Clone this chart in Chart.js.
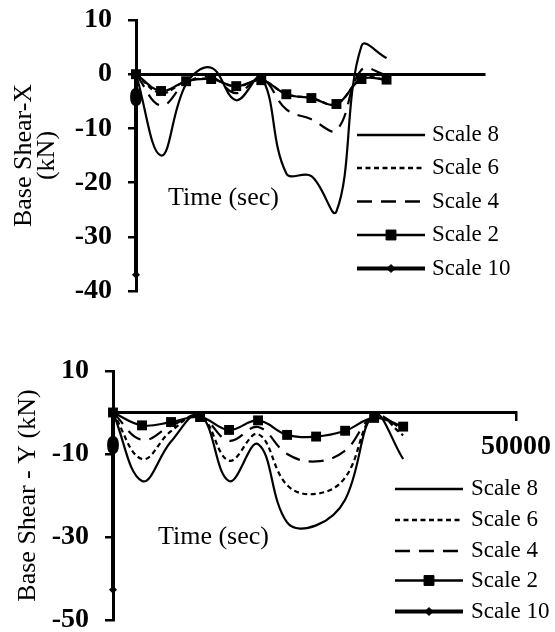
<!DOCTYPE html>
<html>
<head>
<meta charset="utf-8">
<script src="https://cdn.jsdelivr.net/npm/chart.js@4/dist/chart.umd.min.js"></script>
<style>
html,body{margin:0;padding:0;background:#fff;}
#wrap{position:relative;width:555px;height:632px;overflow:hidden;background:#fff;}
.box{position:absolute;left:0;width:555px;height:316px;}
canvas{display:block;}
</style>
</head>
<body>
<div id="wrap">
  <div class="box" style="top:0px"><canvas id="chartX" width="555" height="316"></canvas></div>
  <div class="box" style="top:316px"><canvas id="chartY" width="555" height="316"></canvas></div>
</div>
<script>
// ---------- DATA ----------
const seriesNames = ['Scale 8', 'Scale 6', 'Scale 4', 'Scale 2', 'Scale 10'];
const timeSec = [0, 3600, 7200, 10800, 14400, 18000, 21600, 25200, 28800, 32400, 36000];

// Base Shear-X (kN)
const shearXScale8 = [0, -15.0, -1.8, 1.2, -4.8, -0.6, -18.3, -18.8, -25.3, 5.2, 3.0];
const shearXScale6 = [0, -3.5, -1.3, -0.9, -2.3, -1.1, -3.7, -4.4, -5.5, -0.8, -1.0];
const shearXScale4 = [0, -5.8, -1.6, -0.5, -3.5, -0.8, -6.5, -8.3, -10.3, 0.8, -0.2];
const shearXScale2 = [0, -3.1, -1.3, -0.9, -2.2, -1.1, -3.7, -4.4, -5.5, -0.9, -1.0];
const shearXScale10Time = [0, 0];
const shearXScale10 = [0, -37.0];

// Base Shear - Y (kN)
const shearYScale8 = [0, -16.5, -7.0, -0.5, -16.5, -7.6, -26.5, -27.2, -21.0, -0.5, -11.2];
const shearYScale6 = [0, -11.2, -4.5, -0.7, -11.6, -5.2, -17.5, -19.6, -15.7, -0.6, -5.5];
const shearYScale4 = [0, -6.6, -3.2, -0.9, -6.8, -3.5, -10.0, -11.8, -9.2, -0.9, -4.0];
const shearYScale2 = [0, -3.1, -2.3, -1.1, -4.2, -1.9, -5.4, -5.8, -4.4, -1.3, -3.4];
const shearYScale10Time = [0, 0];
const shearYScale10 = [0, -42.7];

// tick labels
const topYTicks = [10, 0, -10, -20, -30, -40];
const bottomYTicks = [10, -10, -30, -50];
const topXTicks = [0];
const bottomXTicks = [0, 50000];
const xAxisTitle = 'Time (sec)';
const topYTitle = ['Base Shear-X', '(kN)'];
const bottomYTitle = 'Base Shear - Y (kN)';

// ---------- HELPERS ----------
const SERIF = "'Liberation Serif', 'Times New Roman', Times, serif";
function pts(xs, ys) { return xs.map((x, i) => ({x: x, y: ys[i]})); }

const seriesStyle = [
  {borderWidth: 2.2, borderDash: [], pointRadius: 0, pointStyle: 'circle', legendWidth: 2.5},
  {borderWidth: 2.2, borderDash: [5, 3.5], pointRadius: 0, pointStyle: 'circle', legendWidth: 2.5},
  {borderWidth: 2.2, borderDash: [15, 9], pointRadius: 0, pointStyle: 'circle', legendWidth: 2.5},
  {borderWidth: 2.2, borderDash: [], pointRadius: 7, pointStyle: 'rect', legendWidth: 2.5},
  {borderWidth: 4, borderDash: [], pointRadius: 4, pointStyle: 'rectRot', legendWidth: 4}
];

function makeDatasets(list) {
  return list.map((d, i) => Object.assign({
    label: seriesNames[i],
    data: d,
    borderColor: '#000',
    backgroundColor: '#000',
    pointBackgroundColor: '#000',
    pointBorderColor: '#000',
    pointBorderWidth: 0,
    pointHoverRadius: 0,
    tension: 0.4,
    fill: false,
    clip: false
  }, seriesStyle[i]));
}

const decorPlugin = {
  id: 'decor',
  afterDraw(chart, args, o) {
    const ctx = chart.ctx;
    ctx.save();
    chart.data.datasets.forEach((ds, i) => {
      const y = o.rows[i];
      ctx.strokeStyle = '#000';
      ctx.fillStyle = '#000';
      ctx.lineWidth = ds.legendWidth;
      ctx.setLineDash(ds.borderDash || []);
      ctx.beginPath();
      ctx.moveTo(o.x1, y);
      ctx.lineTo(o.x2, y);
      ctx.stroke();
      ctx.setLineDash([]);
      if (ds.pointRadius > 0) {
        ctx.lineWidth = 1;
        Chart.helpers.drawPoint(ctx, {pointStyle: ds.pointStyle, radius: ds.pointRadius, rotation: 0, borderWidth: 1}, (o.x1 + o.x2) / 2, y);
      }
      ctx.font = o.legendFont;
      ctx.textAlign = 'left';
      ctx.textBaseline = 'middle';
      ctx.fillText(ds.label, o.textX, y);
    });
    ctx.font = o.titleFont;
    ctx.textAlign = 'left';
    ctx.textBaseline = 'alphabetic';
    ctx.fillStyle = '#000';
    ctx.fillText(o.titleText, o.titleX, o.titleY);
    ctx.restore();
  }
};

function makeChart(id, cfg) {
  return new Chart(document.getElementById(id), {
    type: 'line',
    data: {datasets: makeDatasets(cfg.series)},
    plugins: [decorPlugin],
    options: {
      responsive: false,
      animation: false,
      events: [],
      layout: {padding: cfg.padding},
      plugins: {
        legend: {display: false},
        tooltip: {enabled: false},
        decor: cfg.decor
      },
      scales: {
        x: {
          type: 'linear',
          min: 0,
          max: 50000,
          position: {y: 0},
          afterBuildTicks: s => { s.ticks = cfg.xTicks.map(v => ({value: v})); },
          afterFit: s => { s.paddingLeft = 0; s.paddingRight = 0; },
          ticks: {
            autoSkip: false,
            maxRotation: 0,
            color: '#000',
            padding: cfg.xTickPad,
            font: {family: SERIF, size: 28, weight: 'bold'},
            callback: v => String(v)
          },
          grid: {display: true, drawOnChartArea: false, drawTicks: cfg.xDrawTicks, tickLength: 7, color: '#000', lineWidth: 2.5},
          border: {display: true, color: '#000', width: 3}
        },
        y: {
          type: 'linear',
          min: cfg.yMin,
          max: cfg.yMax,
          position: 'left',
          afterBuildTicks: s => { s.ticks = cfg.yTicks.map(v => ({value: v})); },
          afterFit: s => { s.width = cfg.yWidth; s.paddingTop = 0; s.paddingBottom = 0; },
          ticks: {
            autoSkip: false,
            color: '#000',
            padding: 16,
            font: {family: SERIF, size: 28, weight: 'bold'},
            callback: v => String(v)
          },
          grid: {display: true, drawOnChartArea: false, drawTicks: true, tickLength: 8, color: '#000', lineWidth: 2.5},
          border: {display: true, color: '#000', width: 3},
          title: {
            display: true,
            text: cfg.yTitle,
            color: '#000',
            font: {family: SERIF, size: 26, weight: 'normal', lineHeight: 0.88},
            padding: {top: cfg.yTitlePad, bottom: 0}
          }
        }
      }
    }
  });
}

makeChart('chartX', {
  series: [
    pts(timeSec, shearXScale8),
    pts(timeSec, shearXScale6),
    pts(timeSec, shearXScale4),
    pts(timeSec, shearXScale2),
    pts(shearXScale10Time, shearXScale10)
  ],
  padding: {left: 0, right: 71, top: 20, bottom: 25},
  yMin: -40, yMax: 10, yTicks: topYTicks, yWidth: 136,
  xTicks: topXTicks, xDrawTicks: false, xTickPad: 8,
  yTitle: topYTitle, yTitlePad: 13,
  decor: {
    rows: [135, 168, 201.5, 235, 268.5], x1: 357, x2: 425, textX: 432,
    legendFont: '23px ' + SERIF,
    titleText: xAxisTitle, titleX: 168, titleY: 205, titleFont: '26px ' + SERIF
  }
});

makeChart('chartY', {
  series: [
    pts(timeSec, shearYScale8),
    pts(timeSec, shearYScale6),
    pts(timeSec, shearYScale4),
    pts(timeSec, shearYScale2),
    pts(shearYScale10Time, shearYScale10)
  ],
  padding: {left: 0, right: 39, top: 55, bottom: 12},
  yMin: -50, yMax: 10, yTicks: bottomYTicks, yWidth: 113,
  xTicks: bottomXTicks, xDrawTicks: true, xTickPad: 10,
  yTitle: bottomYTitle, yTitlePad: 17,
  decor: {
    rows: [173, 204, 235, 264.5, 295.5], x1: 395, x2: 463, textX: 471,
    legendFont: '23px ' + SERIF,
    titleText: xAxisTitle, titleX: 158, titleY: 228, titleFont: '26px ' + SERIF
  }
});
</script>
</body>
</html>
